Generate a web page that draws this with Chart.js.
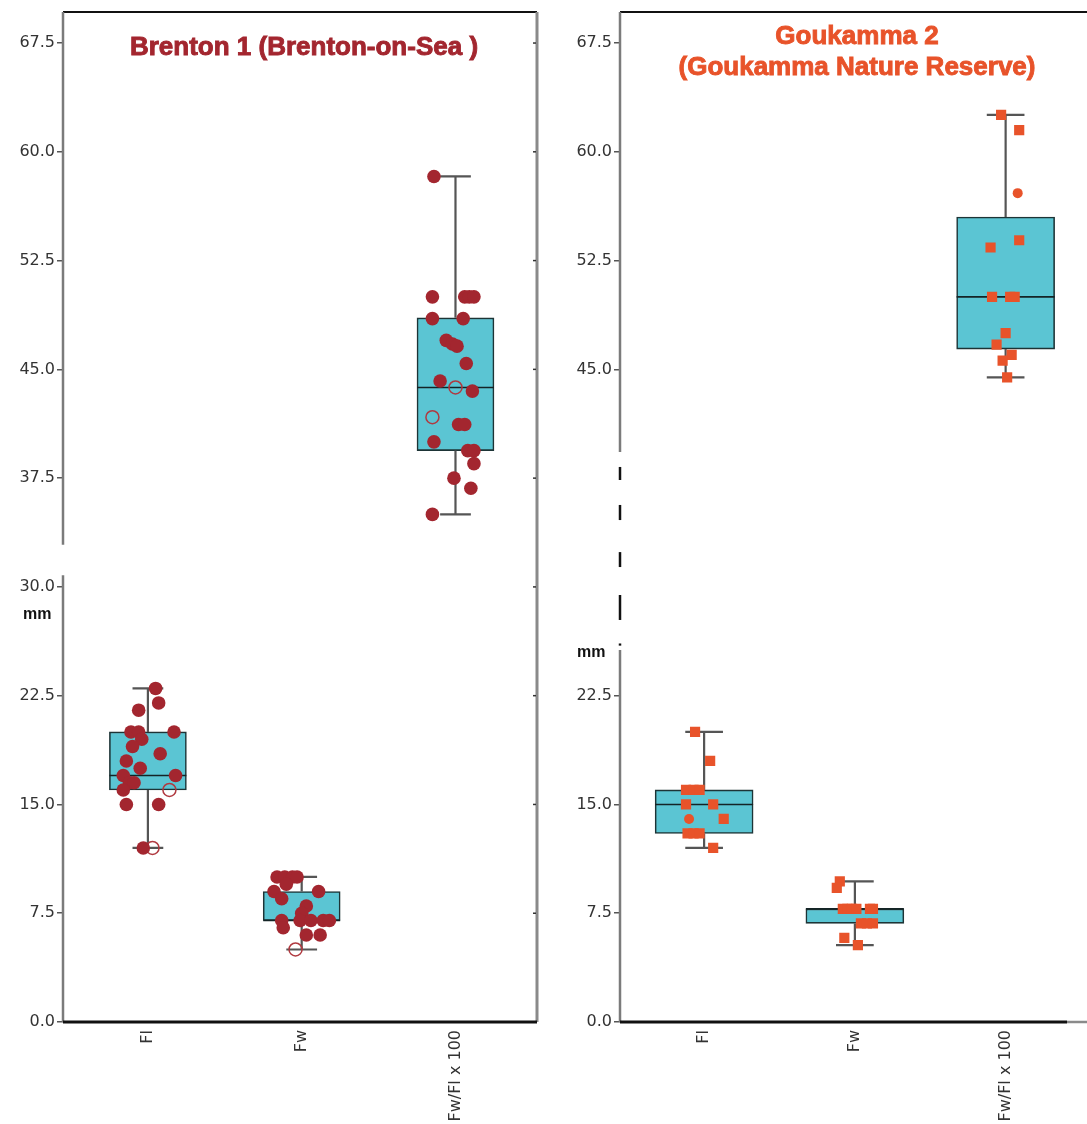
<!DOCTYPE html>
<html>
<head>
<meta charset="utf-8">
<script src="https://cdn.jsdelivr.net/npm/chart.js@4.4.1/dist/chart.umd.min.js"></script>
<style>
  html, body { margin: 0; padding: 0; background: #fff; }
  #wrap { position: relative; width: 1087px; height: 1124px; overflow: hidden; }
  canvas { position: absolute; top: 0; }
</style>
</head>
<body>
<div id="wrap">
  <canvas id="brenton" width="545" height="1124" style="left:0"></canvas>
  <canvas id="goukamma" width="542" height="1124" style="left:545px"></canvas>
</div>
<script>
// categories + tick labels
const categories = ['Fl', 'Fw', 'Fw/Fl x 100'];
const brYTicks = [0, 7.5, 15, 22.5, 30, 37.5, 45, 52.5, 60, 67.5];
const gkYTicks = [0, 7.5, 15, 22.5, 45, 52.5, 60, 67.5];

// Brenton 1 - box stats (Fl, Fw, ratio)
const brMin = [12, 5, 35];
const brQ1 = [16, 7, 39.4];
const brMed = [17, 7, 43.75];
const brQ3 = [20, 9, 48.55];
const brMax = [23, 10, 58.3];

// Brenton 1 - individual values and their horizontal jitter (category units)
const brFl = [23, 22, 21.5, 20, 20, 20, 19.5, 19, 18.5, 18, 17.5, 17, 17, 16.5, 16.5, 16, 15, 15, 12];
const brFlJit = [0.05, 0.07, -0.06, -0.11, -0.06, 0.17, -0.04, -0.10, 0.08, -0.14, -0.05, -0.16, 0.18, -0.12, -0.09, -0.16, -0.14, 0.07, -0.03];
const brFlOpen = [16, 12];
const brFlOpenJit = [0.14, 0.03];
const brFw = [10, 10, 10, 10, 9.5, 9, 9, 8.5, 8, 7.5, 7, 7, 7, 7, 7, 6.5, 6, 6];
const brFwJit = [-0.16, -0.11, -0.06, -0.03, -0.10, -0.18, 0.11, -0.13, 0.03, 0.0, -0.13, -0.01, 0.06, 0.14, 0.18, -0.12, 0.03, 0.12];
const brFwOpen = [5];
const brFwOpenJit = [-0.04];
const brRatio = [58.3, 50, 50, 50, 50, 48.5, 48.5, 47, 46.75, 46.6, 45.4, 44.2, 43.5, 41.2, 41.2, 40, 39.4, 39.4, 38.5, 37.5, 36.8, 35];
const brRatioJit = [-0.14, -0.15, 0.06, 0.09, 0.12, -0.15, 0.05, -0.06, -0.02, 0.01, 0.07, -0.10, 0.11, 0.02, 0.06, -0.14, 0.08, 0.12, 0.12, -0.01, 0.10, -0.15];
const brRatioOpen = [43.75, 41.7];
const brRatioOpenJit = [0.0, -0.15];

// Goukamma 2 - box stats
const gkMin = [12, 5.3, 44.45];
const gkQ1 = [13, 6.8, 46.4];
const gkMed = [15, 7.8, 50];
const gkQ3 = [16, 7.8, 55.5];
const gkMax = [20, 9.7, 62.55];

// Goukamma 2 - individual values (squares) + a few circles
const gkFl = [20, 18, 16, 16, 16, 15, 15, 14, 13, 13, 13, 12];
const gkFlJit = [-0.06, 0.04, -0.12, -0.07, -0.03, -0.12, 0.06, 0.13, -0.11, -0.07, -0.03, 0.06];
const gkFlCirc = [14];
const gkFlCircJit = [-0.10];
const gkFw = [9.7, 9.25, 7.8, 7.8, 7.8, 7.8, 7.8, 7.8, 6.8, 6.8, 6.8, 5.8, 5.3];
const gkFwJit = [-0.10, -0.12, -0.08, -0.05, -0.02, 0.01, 0.10, 0.12, 0.04, 0.08, 0.12, -0.07, 0.02];
const gkRatio = [62.55, 61.5, 53.9, 53.4, 50, 50, 50, 47.5, 46.7, 46.0, 45.6, 44.45];
const gkRatioJit = [-0.03, 0.09, 0.09, -0.10, -0.09, 0.03, 0.06, 0.0, -0.06, 0.04, -0.02, 0.01];
const gkRatioCirc = [57.15];
const gkRatioCircJit = [0.08];

const BOX_FILL = '#5bc5d3';

function pts(cat, vals, jit) {
  return vals.map((v, i) => ({ x: cat + jit[i], y: v }));
}

function boxDatasets(mn, q1, med, q3, mx, boxW, capW) {
  const whisk = [], medians = [];
  categories.forEach((c, i) => {
    whisk.push({ x: i, y: q3[i] }, { x: i, y: mx[i] }, { x: i, y: null });
    whisk.push({ x: i, y: q1[i] }, { x: i, y: mn[i] }, { x: i, y: null });
    whisk.push({ x: i - capW, y: mx[i] }, { x: i + capW, y: mx[i] }, { x: i, y: null });
    whisk.push({ x: i - capW, y: mn[i] }, { x: i + capW, y: mn[i] }, { x: i, y: null });
    medians.push({ x: i - boxW / 2, y: med[i] }, { x: i + boxW / 2, y: med[i] }, { x: i, y: null });
  });
  return [
    {
      type: 'bar', order: 3,
      data: categories.map((c, i) => ({ x: i, y: [q1[i], q3[i]] })),
      backgroundColor: BOX_FILL, borderColor: '#1d3436', borderWidth: 1.6,
      borderSkipped: false
    },
    {
      type: 'line', order: 2, data: whisk, spanGaps: false,
      borderColor: '#555', borderWidth: 2.2, pointRadius: 0
    },
    {
      type: 'line', order: 1, data: medians, spanGaps: false,
      borderColor: '#142426', borderWidth: 1.6, pointRadius: 0
    }
  ];
}

const framePlugin = {
  id: 'frame',
  afterDatasetsDraw(chart, args, o) {
    const { ctx, chartArea: a, scales: { y } } = chart;
    const W = chart.width;
    const seg = (x0, y0, x1, y1) => { ctx.beginPath(); ctx.moveTo(x0, y0); ctx.lineTo(x1, y1); ctx.stroke(); };
    ctx.save();
    // top border
    ctx.strokeStyle = '#111'; ctx.lineWidth = 2;
    seg(a.left, a.top, o.rightBorder ? a.right : W, a.top);
    // left axis (broken)
    ctx.strokeStyle = '#7b7b7b'; ctx.lineWidth = 2.5;
    o.axisSolid.forEach(s => seg(a.left, y.getPixelForValue(s[0]), a.left, y.getPixelForValue(s[1])));
    ctx.strokeStyle = '#111';
    (o.axisDash || []).forEach(s => seg(a.left, y.getPixelForValue(s[0]), a.left, y.getPixelForValue(s[1])));
    // right border with small inward ticks
    if (o.rightBorder) {
      ctx.strokeStyle = '#8a8a8a'; ctx.lineWidth = 3;
      seg(a.right, a.top, a.right, a.bottom);
      ctx.strokeStyle = '#333'; ctx.lineWidth = 1.5;
      y.ticks.forEach(t => { const py = y.getPixelForValue(t.value); seg(a.right - 4, py, a.right - 1, py); });
    }
    // bottom axis
    ctx.strokeStyle = '#111'; ctx.lineWidth = 3;
    seg(a.left, a.bottom, o.bottomEnd || a.right, a.bottom);
    if (o.bottomEnd) { ctx.strokeStyle = '#8a8a8a'; ctx.lineWidth = 2.5; seg(o.bottomEnd, a.bottom, W, a.bottom); }
    // title (slightly stroked to get the heavy look)
    ctx.fillStyle = o.titleColor; ctx.strokeStyle = o.titleColor; ctx.lineWidth = 0.9;
    ctx.font = 'bold 26px "Liberation Sans", Arial, sans-serif';
    ctx.textAlign = 'center'; ctx.textBaseline = 'middle';
    o.title.forEach((line, k) => {
      ctx.fillText(line, o.titleX, o.titleY + k * 31);
      ctx.strokeText(line, o.titleX, o.titleY + k * 31);
    });
    // unit label
    ctx.fillStyle = '#111';
    ctx.font = 'bold 16px "Liberation Sans", Arial, sans-serif';
    ctx.textAlign = 'left';
    ctx.fillText('mm', o.mmX, o.mmY);
    ctx.restore();
  }
};

function makePanel(id, cfg) {
  const datasets = boxDatasets(cfg.mn, cfg.q1, cfg.med, cfg.q3, cfg.mx, cfg.boxW, cfg.capW);
  datasets[0].barThickness = cfg.barPx;
  cfg.points.forEach(p => datasets.push(Object.assign({ type: 'scatter', order: 0 }, p)));
  return new Chart(document.getElementById(id), {
    type: 'bar',
    data: { datasets },
    options: {
      responsive: false,
      animation: false,
      events: [],
      layout: { padding: { top: 12, right: cfg.padRight, left: 0, bottom: 0 } },
      plugins: {
        legend: { display: false },
        tooltip: { enabled: false },
        frame: cfg.frame
      },
      scales: {
        x: {
          type: 'linear', min: cfg.xMin, max: cfg.xMax, offset: false,
          afterBuildTicks: s => { s.ticks = categories.map((c, i) => ({ value: i })); },
          afterFit: s => { s.height = 102; s.paddingLeft = 0; s.paddingRight = 0; },
          grid: { display: false, drawTicks: false },
          border: { display: false },
          ticks: {
            autoSkip: false, minRotation: 90, maxRotation: 90, padding: 8,
            color: '#333', font: { family: 'DejaVu Sans', size: 16 },
            callback: v => categories[v]
          }
        },
        y: {
          type: 'linear', min: 0, max: 69.64,
          afterBuildTicks: s => { s.ticks = cfg.yTicks.map(v => ({ value: v })); },
          afterFit: s => { s.width = cfg.yWidth; s.paddingTop = 0; s.paddingBottom = 0; },
          grid: { drawOnChartArea: false, drawTicks: true, tickLength: 6, tickColor: '#555', lineWidth: 1.5 },
          border: { display: false },
          ticks: {
            padding: 2, color: '#333', font: { family: 'DejaVu Sans', size: 16 },
            callback: v => Number(v).toFixed(1)
          }
        }
      }
    },
    plugins: [framePlugin]
  });
}

const RED = '#a3262f';
const ORANGE = '#e8532a';

makePanel('brenton', {
  mn: brMin, q1: brQ1, med: brMed, q3: brQ3, mx: brMax,
  boxW: 0.5, capW: 0.1, barPx: 77,
  xMin: -0.552, xMax: 2.53, padRight: 6, yWidth: 63, yTicks: brYTicks,
  points: [
    { data: pts(0, brFl, brFlJit).concat(pts(1, brFw, brFwJit), pts(2, brRatio, brRatioJit)),
      pointStyle: 'circle', pointRadius: 6.8, backgroundColor: RED, borderColor: RED, borderWidth: 0 },
    { data: pts(0, brFlOpen, brFlOpenJit).concat(pts(1, brFwOpen, brFwOpenJit), pts(2, brRatioOpen, brRatioOpenJit)),
      pointStyle: 'circle', pointRadius: 6.5, backgroundColor: 'rgba(0,0,0,0)', borderColor: '#b03a40', borderWidth: 1.5 }
  ],
  frame: {
    rightBorder: true,
    axisSolid: [[69.64, 32.9], [30.8, 0]],
    title: ['Brenton 1 (Brenton-on-Sea )'], titleColor: RED, titleX: 304, titleY: 48,
    mmX: 23, mmY: 615
  }
});

makePanel('goukamma', {
  mn: gkMin, q1: gkQ1, med: gkMed, q3: gkQ3, mx: gkMax,
  boxW: 0.65, capW: 0.125, barPx: 98,
  xMin: -0.558, xMax: 2.492, padRight: 0, yWidth: 75, yTicks: gkYTicks,
  points: [
    { data: pts(0, gkFl, gkFlJit).concat(pts(1, gkFw, gkFwJit), pts(2, gkRatio, gkRatioJit)),
      pointStyle: 'rect', pointRadius: 7.2, backgroundColor: ORANGE, borderColor: ORANGE, borderWidth: 0 },
    { data: pts(0, gkFlCirc, gkFlCircJit).concat(pts(2, gkRatioCirc, gkRatioCircJit)),
      pointStyle: 'circle', pointRadius: 5, backgroundColor: ORANGE, borderColor: ORANGE, borderWidth: 0 }
  ],
  frame: {
    rightBorder: false,
    axisSolid: [[69.64, 39.3], [25.65, 0]],
    axisDash: [[38.27, 37.37], [35.65, 34.61], [32.4, 31.37], [29.44, 27.72], [26.1, 25.95]],
    bottomEnd: 522,
    title: ['Goukamma 2', '(Goukamma Nature Reserve)'], titleColor: ORANGE, titleX: 312, titleY: 37,
    mmX: 32, mmY: 653
  }
});
</script>
</body>
</html>
